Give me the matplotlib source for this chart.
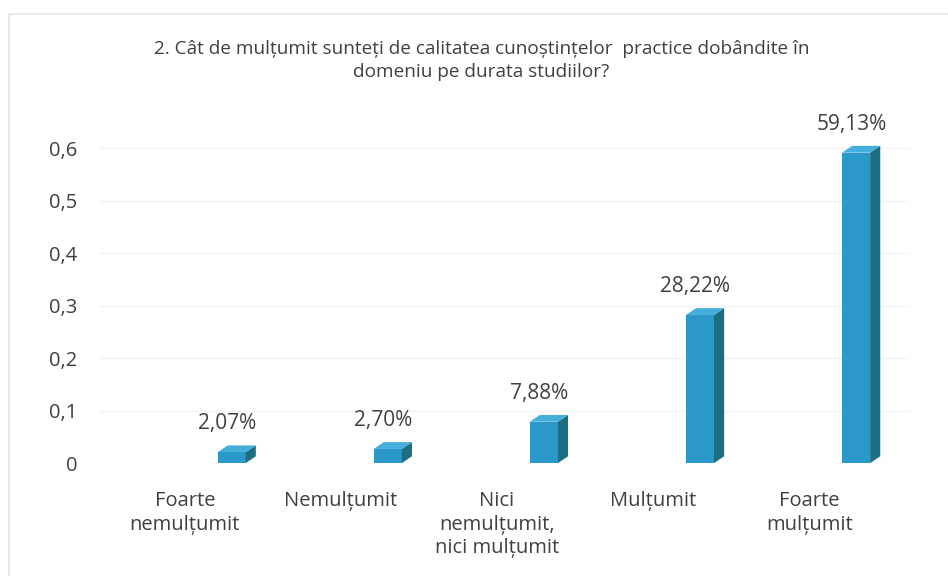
import numpy as np
import matplotlib
matplotlib.use("Agg")
import matplotlib.pyplot as plt
from matplotlib.patches import Rectangle

# Data
categories = ["Foarte\nnemulțumit", "Nemulțumit", "Nici\nnemulțumit,\nnici mulțumit",
              "Mulțumit", "Foarte\nmulțumit"]
values = [0.0207, 0.0270, 0.0788, 0.2822, 0.5913]
yticks = [0, 0.1, 0.2, 0.3, 0.4, 0.5, 0.6]
title = ("2. Cât de mulțumit sunteți de calitatea cunoștințelor  practice dobândite în\n"
         "domeniu pe durata studiilor?")

plt.rcParams['font.family'] = ['Open Sans', 'DejaVu Sans']
txt_col = '#404040'
front = '#2a98c8'
side = '#1c6e82'
top = '#45aedb'

fig = plt.figure(figsize=(9.48, 5.76), dpi=100)
ax = fig.add_axes([0.105, 0.196, 0.855, 0.638])

x = np.arange(len(values))
w = 0.18
dx, dy = 0.065, 0.013  # fake 3D depth

ax.bar(x, values, width=w, color=front, zorder=3)
for xi, v in zip(x, values):
    l, r = xi - w / 2, xi + w / 2
    # side face
    ax.fill([r, r + dx, r + dx, r], [0, dy, v + dy, v], color=side, zorder=3, lw=0)
    # top face
    ax.fill([l, r, r + dx, l + dx], [v, v, v + dy, v + dy], color=top, zorder=3, lw=0)
    lbl = f"{v * 100:.2f}%".replace('.', ',')
    ax.text(xi - 0.03, v + 0.054, lbl, ha='center', va='center', fontsize=15,
            color=txt_col, clip_on=False)

ax.set_xlim(-0.846, 4.346)
ax.set_ylim(0, 0.7)
ax.set_yticks(yticks)
ax.set_yticklabels([f"{t:g}".replace('.', ',') for t in yticks], fontsize=14.5, color=txt_col)
ax.set_xticks(x - 0.3)
ax.set_xticklabels(categories, fontsize=14.5, color=txt_col, linespacing=1.25, va='top')
ax.tick_params(axis='x', length=0, pad=20)
ax.tick_params(axis='y', length=0, pad=16)
for s in ax.spines.values():
    s.set_visible(False)
ax.grid(axis='y', color='#f3f3f3', lw=1, zorder=0)

fig.text(0.508, 0.895, title, ha='center', va='center', fontsize=13.7, color=txt_col,
         linespacing=1.3)

# faint scan border
fig.patches.append(Rectangle((0.009, -0.01), 1.2, 0.985, transform=fig.transFigure,
                             fill=False, ec='#e4e4e4', lw=1.2))

fig.savefig("out.png", dpi=100)
